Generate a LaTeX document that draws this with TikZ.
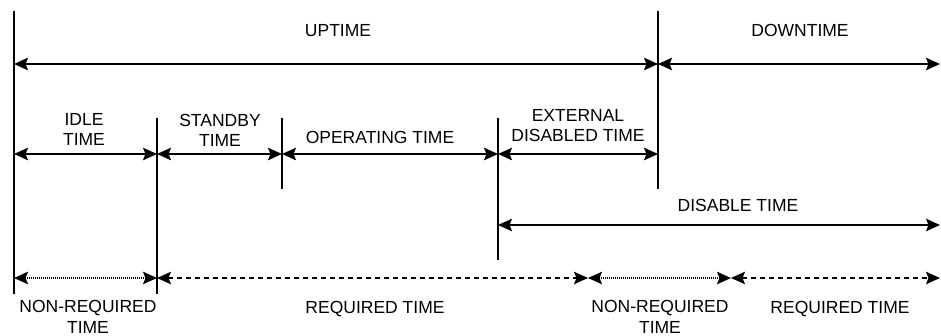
\documentclass[tikz,border=0pt]{standalone}
\usepackage{fontspec}
\setmainfont{Liberation Sans}
\usetikzlibrary{arrows.meta}

\begin{document}
\begin{tikzpicture}[x=1pt, y=-1pt,
    tick/.style={line width=1.7pt},
    span/.style={line width=1.7pt,
      {Stealth[length=14pt, width=12.5pt, inset=2.5pt]}-{Stealth[length=14pt, width=12.5pt, inset=2.5pt]}},
    nonreq/.style={span, line width=1.4pt, dash pattern=on 1pt off 1pt},
    req/.style={span, line width=1.4pt, dash pattern=on 5pt off 4pt},
    lbl/.style={font=\fontsize{17.5}{20.5}\selectfont, align=center, inner sep=0pt, anchor=base},
  ]
    \useasboundingbox (0,0) rectangle (941,336);

    % boundaries of the time periods
    \coordinate (s0) at (14,11);   \coordinate (e0) at (14,294);
    \coordinate (s1) at (157,118); \coordinate (e1) at (157,294);
    \coordinate (s2) at (282,118); \coordinate (e2) at (282,189);
    \coordinate (s3) at (498,118); \coordinate (e3) at (498,260);
    \coordinate (s4) at (658,11);  \coordinate (e4) at (658,189);
    \draw[tick] (s0) -- (e0);
    \draw[tick] (s1) -- (e1);
    \draw[tick] (s2) -- (e2);
    \draw[tick] (s3) -- (e3);
    \draw[tick] (s4) -- (e4);

    % uptime / downtime
    \coordinate (a0) at (14,64); \coordinate (a1) at (658,64); \coordinate (a2) at (940,64);
    \draw[span] (a0) -- (a1);
    \draw[span] (a1) -- (a2);
    \node[lbl] (uptime) at (338,37) {UPTIME};
    \node[lbl] (downtime) at (800,37) {DOWNTIME};

    % breakdown of the uptime (last line on the baseline)
    \coordinate (b0) at (14,154);  \coordinate (b1) at (157,154); \coordinate (b2) at (282,154);
    \coordinate (b3) at (498,154); \coordinate (b4) at (658,154);
    \draw[span] (b0) -- (b1);
    \draw[span] (b1) -- (b2);
    \draw[span] (b2) -- (b3);
    \draw[span] (b3) -- (b4);
    \node[lbl] (idle) at (84,146) {IDLE\\TIME};
    \node[lbl] (standby) at (220,147) {STANDBY\\TIME};
    \node[lbl] (operating) at (380,144) {OPERATING TIME};
    \node[lbl] (external) at (578,142) {EXTERNAL\\DISABLED TIME};

    % disable time
    \coordinate (c0) at (498,225); \coordinate (c1) at (940,225);
    \draw[span] (c0) -- (c1);
    \node[lbl] (disable) at (738,212) {DISABLE TIME};

    % required / non-required time
    \coordinate (d0) at (14,278);  \coordinate (d1) at (157,278); \coordinate (d2) at (588,278);
    \coordinate (d3) at (731,278); \coordinate (d4) at (940,278);
    \draw[nonreq] (d0) -- (d1);
    \draw[req] (d1) -- (d2);
    \draw[nonreq] (d2) -- (d3);
    \draw[req] (d3) -- (d4);
    \node[lbl] (nonreq1) at (88,333) {NON-REQUIRED\\TIME};
    \node[lbl] (req1) at (375,313) {REQUIRED TIME};
    \node[lbl] (nonreq2) at (660,333) {NON-REQUIRED\\TIME};
    \node[lbl] (req2) at (840,313) {REQUIRED TIME};
\end{tikzpicture}
\end{document}
